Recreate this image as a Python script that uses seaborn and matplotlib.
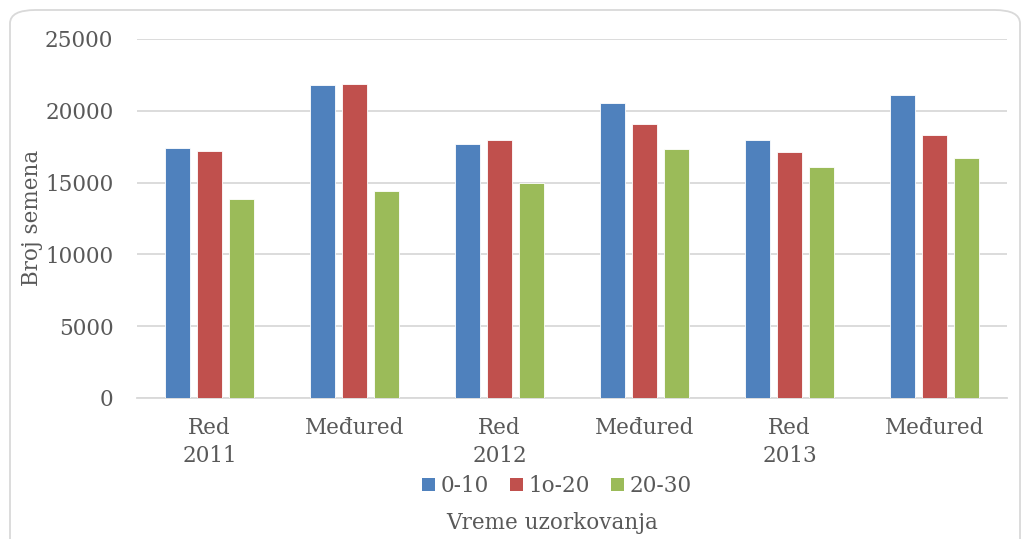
import numpy as np
import pandas as pd
import seaborn as sns
import matplotlib.pyplot as plt
from matplotlib.patches import FancyBboxPatch, Patch

categories = ["Red\n2011", "Međured", "Red\n2012", "Međured", "Red\n2013", "Međured"]
series = ["0-10", "1o-20", "20-30"]
v_0_10 = [17420, 21810, 17700, 20560, 17980, 21120]
v_10_20 = [17230, 21880, 17980, 19090, 17120, 18330]
v_20_30 = [13840, 14445, 14980, 17330, 16070, 16720]
colors = ["#4F81BD", "#C0504D", "#9BBB59"]
yticks = [0, 5000, 10000, 15000, 20000, 25000]

sns.set_theme(style="white")
plt.rcParams['font.family'] = ['DejaVu Serif']
FS = 15.5

W, H = 1023, 539
fig = plt.figure(figsize=(W / 100, H / 100), dpi=100)

# rounded chart border
border = FancyBboxPatch((10 / W, -40 / H), 1010 / W, (H - 10 + 40) / H,
                        boxstyle="round,pad=0,rounding_size=0.025",
                        transform=fig.transFigure, facecolor="white",
                        edgecolor="#d9d9d9", linewidth=1.3, zorder=-10)
fig.patches.append(border)

ax = fig.add_axes([137 / W, 1 - 398 / H, 870 / W, 359 / H])
ax.set_facecolor("none")

keys = [f"c{i}" for i in range(len(categories))]
rows = []
for name, vals in zip(series, [v_0_10, v_10_20, v_20_30]):
    for k, v in zip(keys, vals):
        rows.append({"cat": k, "series": name, "value": v})
df = pd.DataFrame(rows)

sns.barplot(data=df, x="cat", y="value", hue="series", order=keys,
            hue_order=series, palette=colors, width=0.662, gap=0.22,
            saturation=1, edgecolor="white", linewidth=0.6, ax=ax,
            legend=False, zorder=3)

ax.set_xlim(-0.5, len(categories) - 0.5)
ax.set_ylim(0, 25000)
ax.set_yticks(yticks)
ax.set_yticklabels([str(t) for t in yticks])
ax.set_xticks(range(len(categories)))
ax.set_xticklabels(categories, linespacing=1.3)
ax.grid(axis="y", color="#d9d9d9", linewidth=1.3, zorder=0)
ax.set_axisbelow(True)
for s in ["top", "right", "left"]:
    ax.spines[s].set_visible(False)
ax.spines["bottom"].set_color("#d9d9d9")
ax.spines["bottom"].set_linewidth(1.3)
ax.tick_params(axis="both", length=0, labelsize=FS, labelcolor="#595959")
ax.tick_params(axis="y", pad=17)
ax.tick_params(axis="x", pad=14)
ax.set_xlabel("")
ax.set_ylabel("")

handles = [Patch(facecolor=c, edgecolor="none") for c in colors]
fig.legend(handles, series, loc="center", bbox_to_anchor=(557 / W, 1 - 486 / H),
           ncol=3, frameon=False, fontsize=FS, labelcolor="#595959",
           handlelength=0.6, handleheight=0.6, handletextpad=0.25,
           columnspacing=1.0, borderaxespad=0, borderpad=0)

fig.text(552 / W, 1 - 523 / H, "Vreme uzorkovanja", ha="center", va="center",
         fontsize=FS, color="#595959")
fig.text(32 / W, 1 - 218 / H, "Broj semena", ha="center", va="center",
         rotation=90, fontsize=FS, color="#595959")

fig.savefig("out.png", dpi=100)
